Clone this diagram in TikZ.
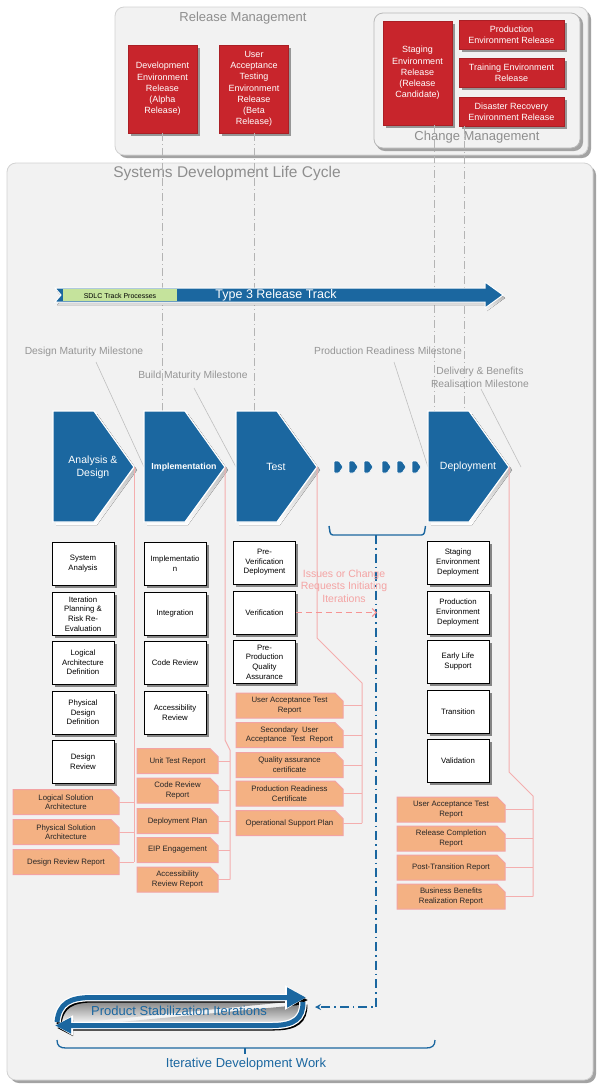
\documentclass[tikz,border=0pt]{standalone}
\usepackage{fontspec}
\setmainfont{Liberation Sans}
\usetikzlibrary{arrows.meta,shadows,calc}
\definecolor{panel}{HTML}{F2F2F2}
\definecolor{panelline}{HTML}{D2D2D2}
\definecolor{shade}{HTML}{A3A3A3}
\definecolor{relred}{HTML}{C8252C}
\definecolor{sdblue}{HTML}{1B67A0}
\definecolor{trackgreen}{HTML}{C5E39C}
\definecolor{orfill}{HTML}{F4B183}
\definecolor{orline}{HTML}{F3A3A3}
\definecolor{pinkl}{HTML}{F4AEAE}
\definecolor{pinktext}{HTML}{F4A3A3}
\definecolor{titlegray}{HTML}{8E8E8E}
\definecolor{msgray}{HTML}{959595}
\definecolor{dashgray}{HTML}{B4B4B4}
\newcommand\fsz[2]{\fontsize{#1}{#2}\selectfont}
\newcommand\mychev[4]{%
  \fill[shade] ({#1+3},414) -- ({#1+44},414) -- ({#1+84},470) -- ({#1+44},525) -- ({#1+3},525) -- cycle;
  \filldraw[fill=sdblue, draw=white, line width=1.3pt] (#1,411) -- ({#1+41},411) -- ({#1+81},467) -- ({#1+41},522) -- (#1,522) -- cycle;
  \node[chevtext, font=#4] (#2) at ({#1+40},467) {#3};
  \coordinate (#2tip) at ({#1+81},467);
}
\newcommand\rep[5]{%
  \filldraw[repshape] ({#2-#4/2},{#3-12.5}) -- ({#2+#4/2-8},{#3-12.5}) -- ({#2+#4/2},{#3-4.5}) -- ({#2+#4/2},{#3+12.5}) -- ({#2-#4/2},{#3+12.5}) -- cycle;
  \node[reptext, minimum width=#4pt] (#1) at (#2,#3) {#5};
}
\begin{document}
\begin{tikzpicture}[x=1pt,y=-1pt,
  frame/.style={fill=panel, draw=panelline, line width=0.8pt, rounded corners=9pt},
  frameshadow/.style={fill=shade, rounded corners=9pt},
  ttl/.style={text=titlegray, inner sep=0pt},
  redbox/.style={fill=relred, draw=relred!85!black, line width=0.6pt, text=white, align=center, font=\fsz{9}{11.2}, inner sep=0pt, drop shadow={shadow xshift=2.5pt, shadow yshift=-2.5pt, fill=black!50, opacity=0.8}},
  gbox/.style={fill=white, draw=black, line width=0.7pt, align=center, font=\fsz{7.8}{9.6}, inner sep=0pt, minimum width=62pt, minimum height=43pt, drop shadow={shadow xshift=2.5pt, shadow yshift=-2.5pt, fill=black!55, opacity=0.85}},
  repshape/.style={fill=orfill, draw=orline, line width=1pt},
  reptext/.style={align=center, font=\fsz{7.8}{9.6}, text=black!85, inner sep=0pt, minimum height=25pt},
  chevtext/.style={text=white, align=center, inner sep=0pt},
  ms/.style={text=msgray, font=\fsz{10.3}{13}, align=center, inner sep=0pt},
  msline/.style={draw=black!25, line width=0.6pt},
  gdash/.style={draw=dashgray, line width=0.7pt, dash pattern=on 8pt off 3pt on 1pt off 3pt},
  pinkline/.style={draw=pinkl, line width=1pt},
  bluetext/.style={text=sdblue, font=\fsz{13}{15}, inner sep=0pt},
]
\useasboundingbox (0,0) rectangle (601,1088);
\fill[white] (0,0) rectangle (601,1088);

% ---------- Release management frame
\fill[frameshadow] (118,10) rectangle (591,158);
\draw[frame] (115,7) rectangle (588,155);
\node[ttl, font=\fsz{13}{15}] (rmt) at (243,18) {Release Management};
\fill[frameshadow] (376,15) rectangle (583,151);
\draw[frame, draw=black!28] (374,13) rectangle (580,148);
\node[ttl, font=\fsz{13}{15}] (cmt) at (477,137) {Change Management};

\node[redbox, minimum width=69pt, minimum height=88pt] (dev) at (162.5,89) {Development\\Environment\\Release\\(Alpha\\Release)};
\node[redbox, minimum width=69pt, minimum height=88pt] (uat) at (254,89) {User\\Acceptance\\Testing\\Environment\\Release\\(Beta\\Release)};
\node[redbox, minimum width=69pt, minimum height=104pt] (stg) at (417.5,73) {Staging\\Environment\\Release\\(Release\\Candidate)};
\node[redbox, minimum width=105pt, minimum height=29pt] (prd) at (511.5,34.5) {Production\\Environment Release};
\node[redbox, minimum width=105pt, minimum height=29pt] (trn) at (511.5,72.5) {Training Environment\\Release};
\node[redbox, minimum width=105pt, minimum height=29pt] (dsr) at (511.5,111.5) {Disaster Recovery\\Environment Release};

% ---------- SDLC frame
\fill[frameshadow] (10,166) rectangle (596,1083);
\draw[frame] (7,163) rectangle (593,1080);
\node[ttl, font=\fsz{15.5}{18}] (sdt) at (227,173) {Systems Development Life Cycle};

% gray dash-dot guide lines
\coordinate (chtop) at (0,411);
\coordinate (stgline) at ($(stg.south)+(16.5,0)$);
\coordinate (dsrline) at ($(dsr.south)+(-47,0)$);
\draw[gdash] (dev.south) -- (dev.south |- chtop);
\draw[gdash] (uat.south) -- (uat.south |- chtop);
\draw[gdash] (stgline) -- (stgline |- chtop);
\draw[gdash] (dsrline) -- (dsrline |- chtop);

% ---------- Track
\fill[shade] (57,291) -- (487,291) -- (487,285) -- (505,298) -- (487,311) -- (487,305) -- (57,305) -- (63,298) -- cycle;
\filldraw[fill=sdblue, draw=white, line width=1pt] (55,288) -- (485,288) -- (485,282) -- (503,295) -- (485,308) -- (485,302) -- (55,302) -- (61,295) -- cycle;
\fill[trackgreen] (63,288.6) rectangle (177,301.4);
\node[font=\fsz{7}{8}, inner sep=0pt] (tp) at (120,295.5) {SDLC Track Processes};
\node[font=\fsz{12.5}{14}, text=white, inner sep=0pt] (t3) at (276,295.5) {Type 3 Release Track};

% ---------- Milestones
\node[ms] (ms1) at (84,352) {Design Maturity Milestone};
\node[ms] (ms2) at (193,376) {Build Maturity Milestone};
\node[ms] (ms3) at (388,351) {Production Readiness Milestone};
\node[ms] (ms4) at (480,377) {Delivery \& Benefits\\Realisation Milestone};
\coordinate (ms1a) at (96,362);  \coordinate (ms1b) at (144,467);
\coordinate (ms2a) at (194,388); \coordinate (ms2b) at (236,467);
\coordinate (ms3a) at (394,362); \coordinate (ms3b) at (428,467);
\coordinate (ms4a) at (481,389); \coordinate (ms4b) at (521,467);
\draw[msline] (ms1a) -- (ms1b);
\draw[msline] (ms2a) -- (ms2b);
\draw[msline] (ms3a) -- (ms3b);
\draw[msline] (ms4a) -- (ms4b);

% ---------- Chevrons
\mychev{53}{ad}{Analysis \&\\Design}{\fsz{10.5}{13}}
\mychev{144}{im}{\textbf{Implementation}}{\fsz{8.8}{10}}
\mychev{236}{te}{Test}{\fsz{10.5}{13}}
\mychev{428}{dp}{Deployment}{\fsz{10.5}{13}}
\foreach \x in {334,349,364,382,397,412} {
  \filldraw[fill=sdblue, draw=white, line width=0.6pt, rounded corners=1pt] (\x,461) -- (\x+5,461) -- (\x+9,467) -- (\x+5,473) -- (\x,473) -- cycle;
}

% bracket + dash-dot return
\draw[sdblue, line width=1.4pt, rounded corners=2.5pt] (329,526) -- (330.5,535) -- (424,535) -- (425.5,526);
\coordinate (brk) at (376,535);
\coordinate (brkturn) at (376,1007);
\coordinate (loopin) at (315,1007);
\draw[sdblue, line width=1.3pt, dash pattern=on 9pt off 4pt on 1.5pt off 4pt, -{Stealth[length=6pt,width=6pt]}] (brk) -- (brkturn) -- (loopin);

% ---------- Activity boxes
\node[gbox] (ag1) at (83,563.5) {System\\Analysis};
\node[gbox] (ag2) at (83,614) {Iteration\\Planning \&\\Risk Re-\\Evaluation};
\node[gbox] (ag3) at (83,662.5) {Logical\\Architecture\\Definition};
\node[gbox] (ag4) at (83,712.5) {Physical\\Design\\Definition};
\node[gbox] (ag5) at (83,761.5) {Design\\Review};

\node[gbox] (ig1) at (175,563.5) {Implementatio\\n};
\node[gbox] (ig2) at (175,613.5) {Integration};
\node[gbox] (ig3) at (175,662.5) {Code Review};
\node[gbox] (ig4) at (175,713) {Accessibility\\Review};

\node[gbox] (tg1) at (264.5,562.5) {Pre-\\Verification\\Deployment};
\node[gbox] (tg2) at (264.5,612.5) {Verification};
\node[gbox] (tg3) at (264.5,662) {Pre-\\Production\\Quality\\Assurance};

\node[gbox] (dg1) at (458,562.5) {Staging\\Environment\\Deployment};
\node[gbox] (dg2) at (458,612.5) {Production\\Environment\\Deployment};
\node[gbox] (dg3) at (458,661.5) {Early Life\\Support};
\node[gbox] (dg4) at (458,711.5) {Transition};
\node[gbox] (dg5) at (458,761) {Validation};

% ---------- Reports
\rep{ar1}{66}{802}{106}{Logical Solution\\Architecture}
\rep{ar2}{66}{832}{106}{Physical Solution\\Architecture}
\rep{ar3}{66}{862}{106}{Design Review Report}

\rep{ir1}{177.5}{761}{81}{Unit Test Report}
\rep{ir2}{177.5}{790.5}{81}{Code Review\\Report}
\rep{ir3}{177.5}{821}{81}{Deployment Plan}
\rep{ir4}{177.5}{850}{81}{EIP Engagement}
\rep{ir5}{177.5}{879.5}{81}{Accessibility\\Review Report}

\rep{tr1}{289.5}{705.5}{107}{User Acceptance Test\\Report}
\rep{tr2}{289.5}{735}{107}{Secondary~ User\\Acceptance~ Test~ Report}
\rep{tr3}{289.5}{765}{107}{Quality assurance\\certificate}
\rep{tr4}{289.5}{793.5}{107}{Production Readiness\\Certificate}
\rep{tr5}{289.5}{823}{107}{Operational Support Plan}

\rep{dr1}{451}{809.5}{108}{User Acceptance Test\\Report}
\rep{dr2}{451}{838.5}{108}{Release Completion\\Report}
\rep{dr3}{451}{867.5}{108}{Post-Transition Report}
\rep{dr4}{451}{896.5}{108}{Business Benefits\\Realization Report}

% ---------- Pink connectors
\draw[pinkline] (adtip) -- (adtip |- ar3.east);
\foreach \r in {ar1,ar2,ar3} \draw[pinkline] (\r.east) -- (\r.east -| adtip);

\coordinate (imb1) at (225,740);
\coordinate (imb2) at (230,750);
\draw[pinkline] (imtip) -- (imb1) -- (imb2) -- (imb2 |- ir5.east);
\foreach \r in {ir1,ir2,ir3,ir4,ir5} \draw[pinkline] (\r.east) -- (\r.east -| imb2);

\coordinate (teb1) at (317,638);
\coordinate (teb2) at (362,683);
\draw[pinkline] (tetip) -- (teb1) -- (teb2) -- (teb2 |- tr5.east);
\foreach \r in {tr1,tr2,tr3,tr4,tr5} \draw[pinkline] (\r.east) -- (\r.east -| teb2);

\coordinate (dpb1) at (509,772);
\coordinate (dpb2) at (533,796);
\draw[pinkline] (dptip) -- (dpb1) -- (dpb2) -- (dpb2 |- dr4.east);
\foreach \r in {dr1,dr2,dr3,dr4} \draw[pinkline] (\r.east) -- (\r.east -| dpb2);

% ---------- Issues text + dashed arrow
\node[text=pinktext, font=\fsz{10.5}{12.6}, align=center, inner sep=0pt] (iss) at (344,586) {Issues or Change\\Requests Initiating\\Iterations};
\coordinate (issend) at (377,613);
\draw[draw=pinkl!85!red, line width=1.1pt, dash pattern=on 6pt off 4pt, -{Straight Barb[length=4pt,width=8pt]}] (tg2.east) -- (tg2.east -| issend);

% ---------- Stabilization loop
\begin{scope}[shift={(2,2.5)}]
  \draw[line width=5pt, shade, -{Triangle[length=19pt,width=19pt]}] (57,1022) .. controls (59,1003) and (70,997.5) .. (92,997.5) -- (306,997.5);
  \draw[line width=5pt, shade, -{Triangle[length=16pt,width=15pt]}] (303,1002) .. controls (303,1018) and (295,1025.5) .. (272,1025.5) -- (55,1025.5);
\end{scope}
\draw[line width=7.5pt, white, -{Triangle[length=21pt,width=23pt]}] (57,1022) .. controls (59,1003) and (70,997.5) .. (92,997.5) -- (306,997.5);
\draw[line width=7.5pt, white, -{Triangle[length=18pt,width=19pt]}] (303,1002) .. controls (303,1018) and (295,1025.5) .. (272,1025.5) -- (55,1025.5);
\draw[line width=5pt, sdblue, -{Triangle[length=19pt,width=19pt]}] (57,1022) .. controls (59,1003) and (70,997.5) .. (92,997.5) -- (306,997.5);
\draw[line width=5pt, sdblue, -{Triangle[length=16pt,width=15pt]}] (303,1002) .. controls (303,1018) and (295,1025.5) .. (272,1025.5) -- (55,1025.5);
\node[bluetext] (psi) at (179,1011) {Product Stabilization Iterations};

% ---------- Bottom brace
\draw[sdblue, line width=1.3pt] (57,1040) .. controls (57,1046) and (60,1048) .. (66,1048) -- (426,1048) .. controls (432,1048) and (435,1046) .. (435,1040);
\coordinate (brc) at (245,1048);
\draw[sdblue, line width=1.3pt] (brc) -- ++(0,6);
\node[bluetext] (idw) at (246,1064) {Iterative Development Work};
\end{tikzpicture}
\end{document}
